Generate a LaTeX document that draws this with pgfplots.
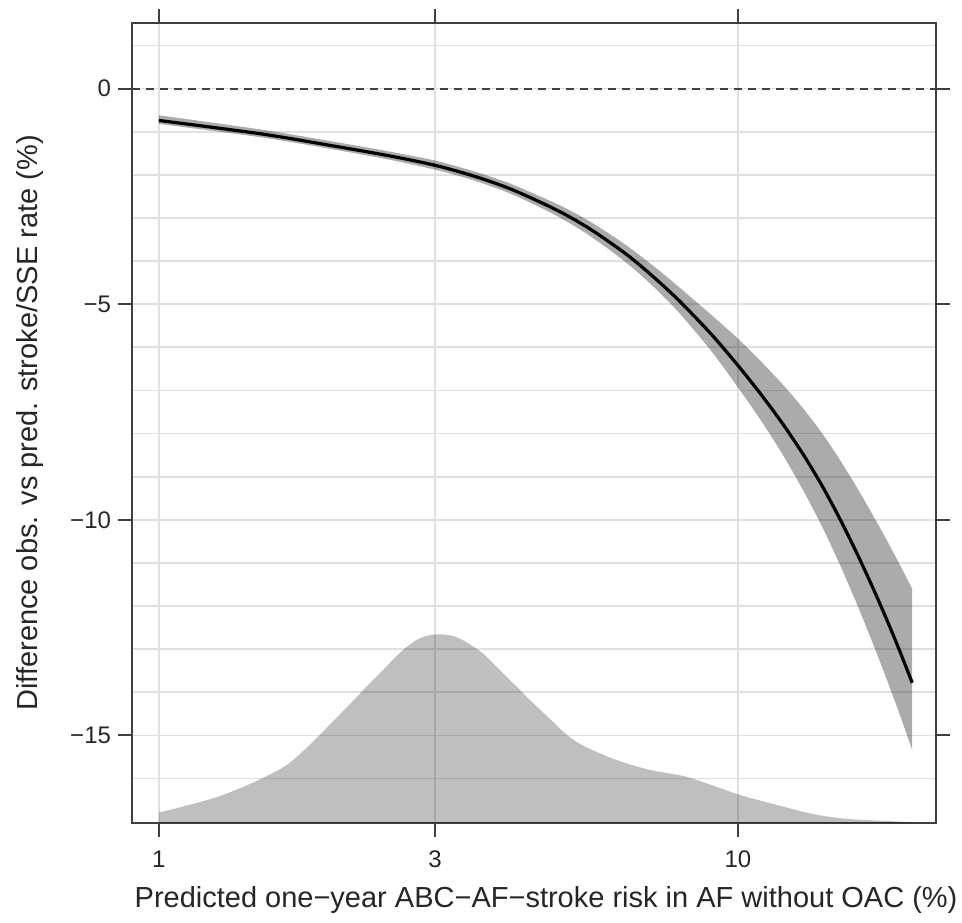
\documentclass[border=0pt]{standalone}
\usepackage{pgfplots}
\usepackage{pgfplotstable}
\pgfplotsset{compat=1.18}
\usepgfplotslibrary{fillbetween}
\usepackage{fontspec}
\setmainfont{Liberation Sans}

\pgfplotstableread{
x y up lo
1 -0.74 0.12 0.08
1.5 -1.05 0.10 0.08
2 -1.33 0.10 0.08
2.5 -1.56 0.10 0.09
3 -1.78 0.11 0.10
3.5 -2.03 0.11 0.10
4 -2.30 0.12 0.11
4.5 -2.60 0.13 0.12
5 -2.90 0.15 0.14
5.5 -3.22 0.17 0.16
6 -3.56 0.19 0.18
6.5 -3.90 0.21 0.20
7 -4.26 0.24 0.22
7.5 -4.62 0.28 0.25
8 -4.98 0.32 0.29
9 -5.70 0.45 0.39
10 -6.42 0.62 0.51
11 -7.12 0.77 0.61
12 -7.81 0.92 0.72
13 -8.51 1.07 0.84
14 -9.23 1.22 0.95
15 -9.98 1.37 1.06
16 -10.74 1.52 1.17
17 -11.50 1.67 1.28
18 -12.26 1.83 1.38
19 -13.02 2.00 1.47
20 -13.78 2.18 1.56
}\curvetable

\pgfplotstableread{
x y
1.00 -16.79
1.10 -16.65
1.26 -16.43
1.44 -16.12
1.64 -15.74
1.75 -15.44
1.87 -15.07
2.00 -14.67
2.14 -14.27
2.28 -13.88
2.44 -13.48
2.61 -13.08
2.79 -12.78
2.95 -12.67
3.10 -12.66
3.25 -12.71
3.40 -12.84
3.63 -13.10
3.88 -13.48
4.15 -13.87
4.43 -14.25
4.74 -14.62
5.06 -14.98
5.41 -15.24
6.17 -15.57
7.05 -15.80
8.05 -15.94
8.83 -16.11
10.08 -16.38
11.97 -16.65
13.67 -16.84
15.60 -16.94
19.05 -17.00
20.00 -17.02
}\denstable

\begin{document}
\begin{tikzpicture}
\begin{axis}[
  scale only axis,
  width=402pt, height=400pt,
  xmode=log, log basis x=10,
  xmin=0.899, xmax=21.98,
  ymin=-17.03, ymax=1.52,
  xtick={1,3,10}, xticklabels={1,3,10},
  ytick={-15,-10,-5,0}, yticklabels={−15,−10,−5,0},
  minor ytick={-16,-14,-13,-12,-11,-9,-8,-7,-6,-4,-3,-2,-1,1},
  minor tick length=0pt,
  xminorgrids=false,
  grid=both,
  major grid style={draw=black!12, line width=0.9pt},
  minor grid style={draw=black!12, line width=0.9pt},
  tick align=outside,
  tick pos=both,
  major tick length=7pt,
  every tick/.style={draw=black!75, line width=1pt},
  axis line style={draw=black!75, line width=1pt},
  tick label style={font=\fontsize{12pt}{14pt}\selectfont, text=black!85},
  xticklabel style={yshift=-3.5pt},
  label style={font=\fontsize{14.5pt}{17pt}\selectfont, text=black!85},
  xlabel={Predicted one−year ABC−AF−stroke risk in AF without OAC (\%)},
  ylabel={Difference obs. vs pred. stroke/SSE rate (\%)},
  xlabel style={at={(axis description cs:0.515,-0.0963)}, anchor=center},
  ylabel style={at={(axis description cs:-0.127,0.5)}, anchor=center},
  clip=true,
]
\addplot[draw=none, fill=black, fill opacity=0.25, smooth] table[x=x,y=y] {\denstable} |- (axis cs:1,-17.03) -- cycle;
\addplot[name path=U, draw=none, smooth, forget plot] table[x=x, y expr=\thisrow{y}+\thisrow{up}] {\curvetable};
\addplot[name path=L, draw=none, smooth, forget plot] table[x=x, y expr=\thisrow{y}-\thisrow{lo}] {\curvetable};
\addplot[fill=black, fill opacity=0.33, draw=none] fill between[of=U and L];
\addplot[black!75, line width=1pt, dash pattern=on 4pt off 3pt] coordinates {(0.899,0) (21.98,0)};
\addplot[black, line width=1.6pt, smooth] table[x=x,y=y] {\curvetable};
\end{axis}
\pgfresetboundingbox
\path[use as bounding box] ([shift={(-66pt,-50pt)}]current axis.south west) rectangle ([shift={(13pt,11.5pt)}]current axis.north east);
\end{tikzpicture}
\end{document}
